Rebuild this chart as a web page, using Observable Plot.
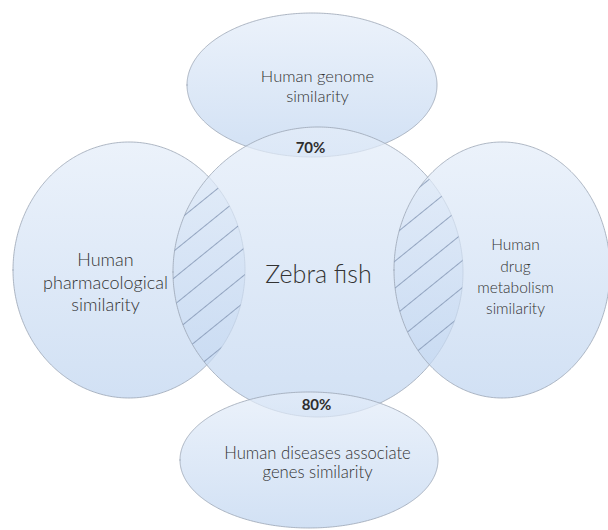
<!DOCTYPE html>
<html>
<head>
<meta charset="utf-8">
<script src="https://cdn.jsdelivr.net/npm/d3@7"></script>
<script src="https://cdn.jsdelivr.net/npm/@observablehq/plot@0.6"></script>
<style>
  html, body { margin: 0; padding: 0; background: #ffffff; }
  #chart { width: 608px; height: 530px; }
</style>
</head>
<body>
<div id="chart"></div>
<script>
// Shapes of the diagram (pixel-like units of the 608x530 canvas)
const shapeNames = ["genome", "pharmacological", "zebrafish", "drug", "diseases"];
const centerX = [312, 129, 318, 502, 309];
const centerY = [85, 270, 272, 270, 460];
const radiusX = [125, 116, 145, 108, 129];
const radiusY = [72, 128, 145, 128, 68];

// Hatched overlaps: [ellipse index, circle index]
const hatchedPairs = [[1, 2], [3, 2]];

// Labels
const labelTexts = [
  "Human genome\nsimilarity",
  "Human\npharmacological\nsimilarity",
  "Zebra fish",
  "Human\ndrug\nmetabolism\nsimilarity",
  "Human diseases associate\ngenes similarity"
];
const labelX = [317, 105, 318, 515, 317];
const labelY = [85, 281, 274, 275, 462];
const labelSize = [16.5, 18, 25, 15.5, 16.7];
const labelLineHeight = [1.2, 1.25, 1, 1.38, 1.1];

const percentTexts = ["70%", "80%"];
const percentX = [310, 316];
const percentY = [148, 405];

// ---- build mark data ----
const N = 240;
const ellipsePts = [];
shapeNames.forEach((name, i) => {
  for (let k = 0; k <= N; k++) {
    const th = Math.PI * k / N;
    const x = centerX[i] - radiusX[i] * Math.cos(th);
    const h = radiusY[i] * Math.sin(th);
    ellipsePts.push({name, x, y1: centerY[i] - h, y2: centerY[i] + h});
  }
});

function halfHeight(i, x) {
  const u = (x - centerX[i]) / radiusX[i];
  if (Math.abs(u) > 1) return null;
  return radiusY[i] * Math.sqrt(1 - u * u);
}
const lensPts = [];
hatchedPairs.forEach(([a, b], p) => {
  const x0 = Math.max(centerX[a] - radiusX[a], centerX[b] - radiusX[b]);
  const x1 = Math.min(centerX[a] + radiusX[a], centerX[b] + radiusX[b]);
  for (let k = 0; k <= 400; k++) {
    const x = x0 + (x1 - x0) * k / 400;
    const ha = halfHeight(a, x), hb = halfHeight(b, x);
    if (ha == null || hb == null) continue;
    const y1 = Math.max(centerY[a] - ha, centerY[b] - hb);
    const y2 = Math.min(centerY[a] + ha, centerY[b] + hb);
    if (y2 < y1) continue;
    lensPts.push({pair: p, x, y1, y2});
  }
});

const labels = labelTexts.map((t, i) => ({t, x: labelX[i], y: labelY[i], s: labelSize[i], lh: labelLineHeight[i]}));
const percents = percentTexts.map((t, i) => ({t, x: percentX[i], y: percentY[i]}));

const font = "Lato, 'Open Sans', sans-serif";

const textMarks = labels.map(d => Plot.text([d], {
  x: "x", y: "y", text: "t", fontSize: d.s, lineHeight: d.lh,
  lineAnchor: "middle", textAnchor: "middle", fill: "#333333",
  fontWeight: 300, fontFamily: font
}));

const svg = Plot.plot({
  width: 608,
  height: 530,
  margin: 0,
  x: {domain: [0, 608], axis: null},
  y: {domain: [0, 530], reverse: true, axis: null},
  style: {background: "transparent", fontFamily: font},
  marks: [
    Plot.areaY(ellipsePts, {
      x: "x", y1: "y1", y2: "y2", z: "name",
      fill: "url(#ellGrad)", fillOpacity: 0.72,
      stroke: "#9aa4b4", strokeWidth: 0.8, curve: "linear"
    }),
    Plot.areaY(lensPts, {
      x: "x", y1: "y1", y2: "y2", z: "pair",
      fill: "url(#hatch)", curve: "linear"
    }),
    ...textMarks,
    Plot.text(percents, {
      x: "x", y: "y", text: "t", fontSize: 15, fontWeight: "bold",
      fill: "#2e2e2e", textAnchor: "middle", lineAnchor: "middle", fontFamily: font
    })
  ]
});

svg.insertAdjacentHTML("afterbegin", `
<defs>
  <linearGradient id="ellGrad" x1="0" y1="0" x2="0" y2="1">
    <stop offset="0" stop-color="#e4edf9"/>
    <stop offset="1" stop-color="#c0d5f0"/>
  </linearGradient>
  <pattern id="hatch" patternUnits="userSpaceOnUse" width="21" height="21" patternTransform="rotate(-39)">
    <line x1="0" y1="10.5" x2="21" y2="10.5" stroke="#8194b3" stroke-width="0.8"/>
  </pattern>
</defs>`);

document.getElementById("chart").appendChild(svg);
</script>
</body>
</html>
